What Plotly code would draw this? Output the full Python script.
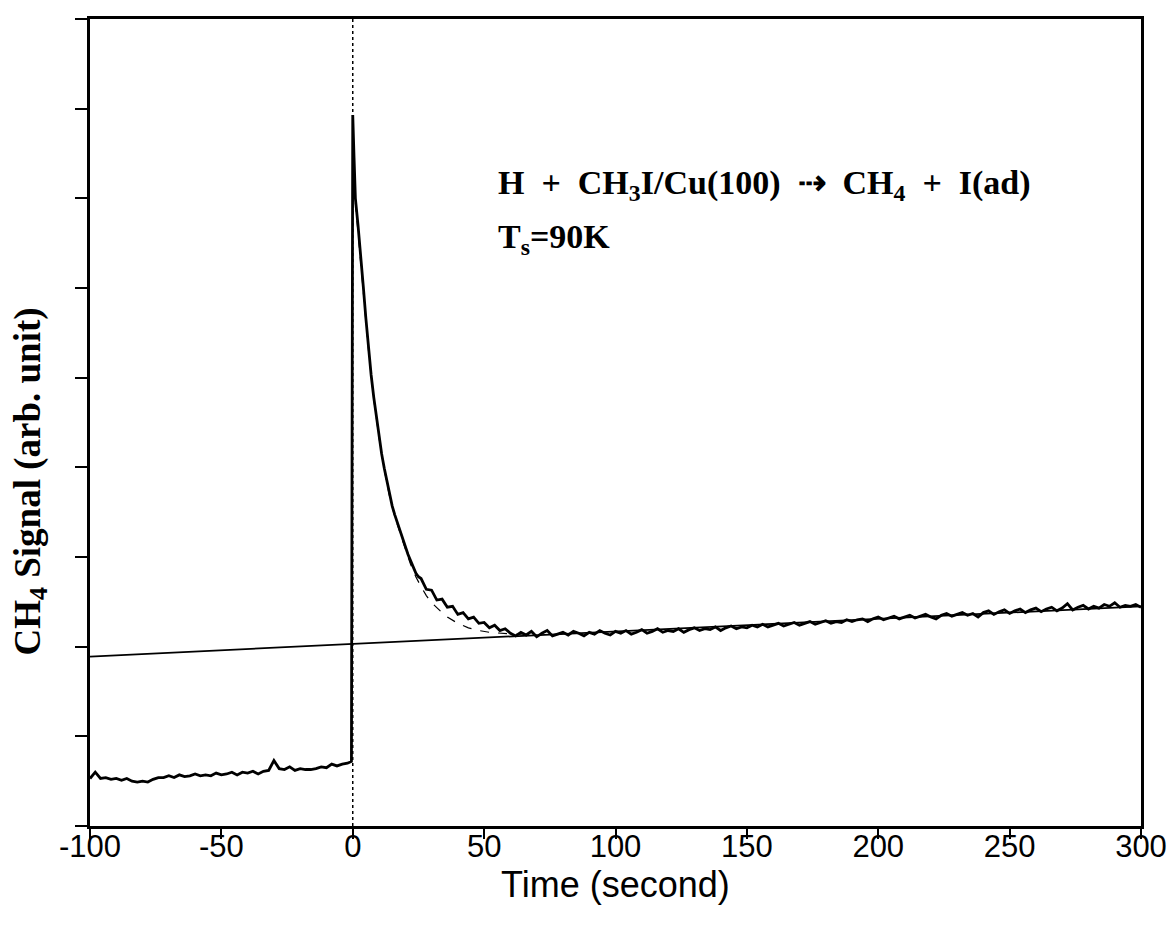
import plotly.graph_objects as go

# ---- data ----
t_before = [-100, -98, -96, -94, -92, -90, -88, -86, -84, -82, -80, -78, -76, -74, -72, -70,
            -68, -66, -64, -62, -60, -58, -56, -54, -52, -50, -48, -46, -44, -42, -40, -38,
            -36, -34, -32, -30, -28, -26, -24, -22, -20, -18, -16, -14, -12, -10, -8, -6,
            -4, -2, -0.5]
s_before = [0.53, 0.60, 0.53, 0.54, 0.52, 0.53, 0.51, 0.53, 0.50, 0.49, 0.50, 0.49, 0.52, 0.54,
            0.54, 0.56, 0.54, 0.57, 0.55, 0.56, 0.58, 0.56, 0.57, 0.56, 0.59, 0.57, 0.58, 0.60,
            0.57, 0.60, 0.59, 0.61, 0.58, 0.61, 0.62, 0.73, 0.64, 0.63, 0.66, 0.62, 0.64, 0.63,
            0.63, 0.64, 0.66, 0.65, 0.69, 0.67, 0.69, 0.70, 0.72]

t_decay = [0, 0.5, 1, 2, 3, 4, 5, 6, 7, 8, 9, 10, 11, 12, 13, 14, 15, 16, 17, 18, 19, 20,
           21, 22, 23, 24, 25, 26, 28, 30, 32, 34, 36, 38, 40, 42, 44, 46, 48, 50, 52, 54,
           56, 58]
s_decay = [7.93, 7.45, 7.00, 6.70, 6.40, 6.02, 5.66, 5.32, 5.03, 4.78, 4.55, 4.35, 4.15, 3.99,
           3.85, 3.70, 3.57, 3.47, 3.38, 3.29, 3.19, 3.11, 3.03, 2.96, 2.88, 2.82, 2.78, 2.76,
           2.64, 2.63, 2.52, 2.53, 2.44, 2.45, 2.36, 2.38, 2.31, 2.33, 2.26, 2.27, 2.21, 2.24,
           2.18, 2.20]

t_tail = list(range(60, 301, 2))
s_tail = [2.15, 2.12, 2.16, 2.13, 2.17, 2.11, 2.15, 2.18, 2.12, 2.14,
          2.16, 2.13, 2.17, 2.15, 2.12, 2.16, 2.14, 2.18, 2.15, 2.13,
          2.17, 2.15, 2.18, 2.14, 2.16, 2.19, 2.15, 2.17, 2.20, 2.16,
          2.18, 2.17, 2.20, 2.16, 2.19, 2.21, 2.18, 2.20, 2.19, 2.22,
          2.18, 2.21, 2.23, 2.20, 2.22, 2.21, 2.24, 2.22, 2.25, 2.22,
          2.24, 2.26, 2.23, 2.25, 2.27, 2.24, 2.26, 2.28, 2.25, 2.27,
          2.29, 2.26, 2.28, 2.27, 2.30, 2.28, 2.30, 2.31, 2.28, 2.31,
          2.33, 2.30, 2.32, 2.34, 2.31, 2.33, 2.35, 2.32, 2.34, 2.36,
          2.33, 2.31, 2.35, 2.37, 2.34, 2.36, 2.38, 2.35, 2.37, 2.33,
          2.38, 2.40, 2.36, 2.39, 2.41, 2.37, 2.40, 2.42, 2.38, 2.41,
          2.43, 2.39, 2.42, 2.44, 2.40, 2.43, 2.48, 2.41, 2.44, 2.46,
          2.42, 2.45, 2.43, 2.47, 2.45, 2.49, 2.44, 2.46, 2.45, 2.47,
          2.44]

fit_t = [1, 2, 4, 6, 8, 10, 12, 14, 16, 18, 20, 22, 24, 26, 28, 30, 32, 34, 36, 38, 40,
         44, 48, 52, 56, 60, 65, 70]
fit_s = [6.95, 6.62, 5.98, 5.30, 4.76, 4.33, 3.97, 3.68, 3.45, 3.26, 3.09, 2.92, 2.78, 2.67,
         2.57, 2.49, 2.43, 2.38, 2.33, 2.29, 2.26, 2.21, 2.18, 2.16, 2.15, 2.14, 2.13, 2.13]

base_t = [-100, 300]
base_s = [1.89, 2.45]

x_ticks = [-100, -50, 0, 50, 100, 150, 200, 250, 300]
y_ticks = [0, 1, 2, 3, 4, 5, 6, 7, 8, 9]

fig = go.Figure()

fig.add_vline(x=0, line=dict(color="black", width=1.5, dash="dot"))

fig.add_trace(go.Scatter(x=base_t, y=base_s, mode="lines",
                         line=dict(color="black", width=1.8), showlegend=False))
fig.add_trace(go.Scatter(x=fit_t, y=fit_s, mode="lines",
                         line=dict(color="black", width=1.2, dash="dash"), showlegend=False))
fig.add_trace(go.Scatter(x=t_before + t_decay + t_tail, y=s_before + s_decay + s_tail,
                         mode="lines", line=dict(color="black", width=2.8), showlegend=False))

serif = "Liberation Serif"
fig.add_annotation(x=0.386, y=0.794, xref="paper", yref="paper", xanchor="left", yanchor="middle",
                   text="<b>H  +  CH<sub>3</sub>I/Cu(100)  ⇢  CH<sub>4</sub>  +  I(ad)</b>",
                   showarrow=False, font=dict(family=serif, size=34, color="black"))
fig.add_annotation(x=0.386, y=0.728, xref="paper", yref="paper", xanchor="left", yanchor="middle",
                   text="<b>T<sub>s</sub>=90K</b>",
                   showarrow=False, font=dict(family=serif, size=34, color="black"))
fig.add_annotation(x=-0.057, y=0.427, xref="paper", yref="paper", xanchor="center", yanchor="middle",
                   textangle=-90, text="<b>CH<sub>4</sub> Signal (arb. unit)</b>",
                   showarrow=False, font=dict(family=serif, size=37, color="black"))
fig.add_annotation(x=0.5, y=-0.072, xref="paper", yref="paper", xanchor="center", yanchor="middle",
                   text="Time (second)", showarrow=False,
                   font=dict(family="Liberation Sans", size=36, color="black"))

fig.update_layout(
    width=1175, height=930,
    margin=dict(l=82, r=42, t=8, b=112),
    paper_bgcolor="white", plot_bgcolor="white",
    xaxis=dict(range=[-100, 300], tickvals=x_ticks, ticktext=[str(v) for v in x_ticks],
               ticks="outside", ticklen=10, tickwidth=1.5, tickcolor="black",
               ticklabelstandoff=-19,
               showline=True, linecolor="black", linewidth=2.5, mirror=True,
               showgrid=False, zeroline=False,
               tickfont=dict(family="Liberation Sans", size=31, color="black")),
    yaxis=dict(range=[0, 9], tickvals=y_ticks, showticklabels=False,
               ticks="outside", ticklen=12, tickwidth=1.5, tickcolor="black",
               showline=True, linecolor="black", linewidth=2.5, mirror=True,
               showgrid=False, zeroline=False),
)

fig.write_html("out.html")
